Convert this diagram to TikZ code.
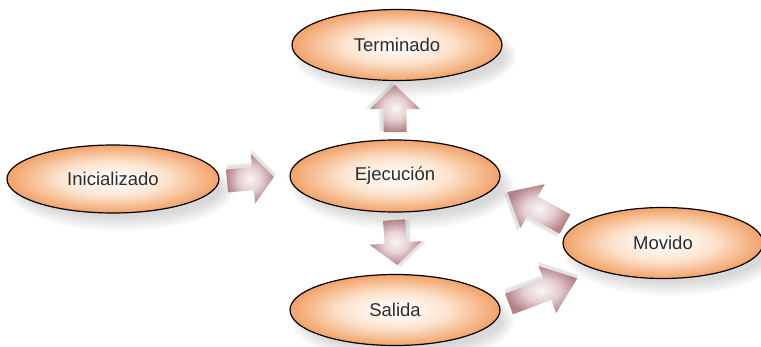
\documentclass[tikz,border=0pt]{standalone}
\usepackage{fontspec}
\setmainfont{Liberation Sans}
\usetikzlibrary{shapes.geometric}
\definecolor{ellout}{RGB}{242,162,104}
\definecolor{ellmid}{RGB}{252,226,204}
\definecolor{arrout}{RGB}{178,130,136}
\definecolor{arrmid}{RGB}{230,208,211}
\definecolor{txt}{RGB}{45,45,45}
\pgfdeclareradialshading{ellshade}{\pgfpoint{0bp}{0bp}}{color(0bp)=(white); color(5bp)=(white!70!ellmid); color(13bp)=(ellmid); color(25bp)=(ellout); color(50bp)=(ellout)}
\pgfdeclareradialshading{arrshade}{\pgfpoint{0bp}{0bp}}{color(0bp)=(white!80!arrmid); color(12bp)=(arrmid); color(25bp)=(arrout); color(50bp)=(arrout)}
\newcommand{\ellshadow}[4]{%
  \foreach \k in {0,...,7}{%
    \fill[black,opacity=0.018] ({#1+8},{#2+11}) ellipse ({#3-7+2*\k} and {#4-7+2*\k});
  }}
\newcommand{\blockarrow}[7]{%
  \begin{scope}[shift={(#1,#2)},rotate=#3]
    \foreach \k in {0,...,2}{%
      \fill[black,opacity=0.04,shift={(1,-3)}] (0,{-#5-\k}) -- ({#4-#7},{-#5-\k}) -- ({#4-#7},{-#6-\k}) -- ({#4+\k},0) -- ({#4-#7},{#6+\k}) -- ({#4-#7},{#5+\k}) -- (0,{#5+\k}) -- cycle;
    }
    \shade[shading=arrshade] (0,-#5) -- ({#4-#7},-#5) -- ({#4-#7},-#6) -- (#4,0) -- ({#4-#7},#6) -- ({#4-#7},#5) -- (0,#5) -- cycle;
  \end{scope}}
\tikzset{
  state/.style={ellipse, draw=black, line width=1.2pt, shading=ellshade,
    minimum width=210pt, minimum height=71pt, text=txt, font=\fontsize{18.5}{21}\selectfont}
}
\begin{document}
\begin{tikzpicture}[x=1pt,y=-1pt]
\useasboundingbox (0,0) rectangle (761,346);
% shadows
\ellshadow{397}{45}{105}{35}
\ellshadow{113}{179}{106}{34}
\ellshadow{395}{176}{105}{36}
\ellshadow{395}{310}{105}{35}
\ellshadow{663}{243}{100}{35}
% nodes
\node[state] (term) at (397,45) {Terminado};
\node[state, minimum width=212pt, minimum height=68pt] (ini) at (113,179) {Inicializado};
\node[state, minimum height=72pt] (eje) at (395,176) {Ejecución};
\node[state] (sal) at (395,310) {Salida};
\node[state, minimum width=200pt] (mov) at (663,243) {Movido};
% block arrows
\blockarrow{395}{132}{90}{47}{11.5}{25}{24}
\blockarrow{227}{181}{5}{47}{11.5}{25}{21}
\blockarrow{394}{220}{-86}{45}{11}{26}{22}
\blockarrow{565}{224}{151}{66}{11}{25}{29}
\blockarrow{509}{304}{20.6}{73}{11}{25}{32}
\end{tikzpicture}
\end{document}
